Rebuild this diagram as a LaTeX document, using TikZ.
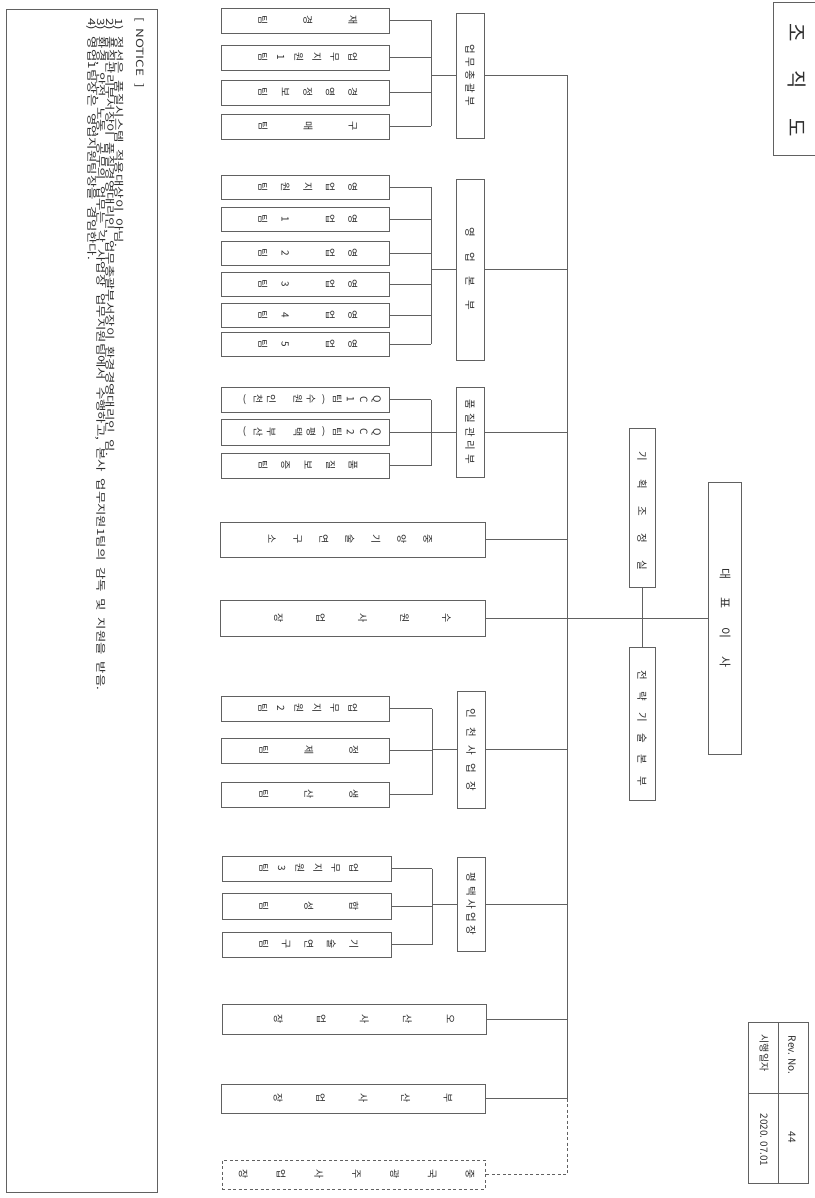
\documentclass[tikz,border=0pt]{standalone}
\usepackage{fontspec}
\setmainfont{Noto Sans CJK KR}
\newfontfamily\nfont[WordSpace=2.2,FakeStretch=1.35]{Noto Sans CJK KR}
\definecolor{ln}{gray}{0.38}
\definecolor{tx}{gray}{0.18}
\makeatletter
\def\Spread#1#2{\def\Spread@k{\kern#1}\Spread@a#2\@nil}
\def\Spread@a#1#2\@nil{#1\ifx\relax#2\relax\else\Spread@k\Spread@a#2\@nil\fi}
\makeatother
\newcommand\mkbox[6][]{\node[box,#1,minimum width={(#5-#3)*1pt},minimum height={(#6-#4)*1pt}] (#2) at ({(#3+#5)/2},{(#4+#6)/2}) {};}
\newcommand\opn{\rotatebox[origin=c]{-90}{(}}
\newcommand\cls{\rotatebox[origin=c]{-90}{)}}
\tikzset{
  box/.style={draw=ln, line width=0.75pt, inner sep=0pt, outer sep=0pt},
  dbox/.style={dash pattern=on 3pt off 2.5pt},
  rot/.style={rotate=-90, text=tx, inner sep=0pt, align=center},
  stk/.style={rot, font=\fontsize{10}{#1}\selectfont},
  lvtwo/.style={rot, font=\fontsize{10.5}{12}\selectfont},
  ntxt/.style={rot, anchor=west, font=\nfont\fontsize{10}{10}\selectfont},
  conn/.style={draw=ln, line width=0.7pt},
}
\begin{document}
\begin{tikzpicture}[x=1pt,y=-1pt]
\path[use as bounding box] (0,0) rectangle (814,1198);
\fill[white] (0,0) rectangle (814,1198);

% title
\node[box, minimum width=50pt, minimum height=153pt] (ttl) at (798,78.5) {};
\node[rot, font=\fontsize{20}{24}\selectfont] (ttlt) at (797,80) {\Spread{29pt}{조직도}};

% revision table
\mkbox{rev}{748}{1022}{808}{1183}
\draw[conn] (rev.north) -- (rev.south);
\draw[conn] (rev.west |- 0,1093) -- (rev.east |- 0,1093);
\node[rot, font=\fontsize{10}{12}\selectfont] (rv1) at (792,1055) {Rev. No.};
\node[rot, font=\fontsize{10}{12}\selectfont] (rv2) at (792,1137) {44};
\node[rot, font=\fontsize{10}{12}\selectfont] (rv3) at (764,1053) {시행일자};
\node[rot, font=\fontsize{10}{12}\selectfont] (rv4) at (764,1140) {2020. 07.01};

% notice
\mkbox{ntc}{6}{9}{157}{1192}
\node[ntxt] (nh) at (140,17) {[ NOTICE ]};
\node[ntxt] (n1) at (119,18) {1) 정선은 품질시스템 적용대상이 아님.};
\node[ntxt] (n2) at (110,18) {2) 품질관리부서장이 품질경영대리인, 업무총괄부서장이 환경경영대리인 임.};
\node[ntxt] (n3) at (101,18) {3) 환경, 안전, 노동, 공무의 업무는 각 사업장 업무지원팀에서 수행하고, 본사 업무지원1팀의 감독 및 지원을 받음.};
\node[ntxt] (n4) at (92,18) {4) 영업1팀장은 영업지원팀장을 겸임한다.};

% top level
\mkbox{ceo}{708}{482}{741}{754}
\node[rot, font=\fontsize{12}{14}\selectfont] (ceot) at (725,618) {\Spread{18pt}{대표이사}};
\mkbox{plan}{629}{428}{655}{587}
\node[lvtwo] (plant) at (642,511) {\Spread{17.5pt}{기획조정실}};
\mkbox{strat}{629}{647}{655}{800}
\node[lvtwo] (stratt) at (642,728) {\Spread{11.5pt}{전략기술본부}};

% level two
\mkbox{gA}{456}{13}{484}{138}
\node[lvtwo] (gAt) at (470,75.5) {\Spread{3.5pt}{업무총괄부}};
\mkbox{gB}{456}{179}{484}{360}
\node[lvtwo] (gBt) at (470,269) {\Spread{14.5pt}{영업본부}};
\mkbox{gC}{456}{387}{484}{477}
\node[lvtwo] (gCt) at (470,432) {\Spread{4pt}{품질관리부}};
\mkbox{rnd}{220}{522}{485}{557}
\node[stk=26] (rndt) at (350,539.5) {중\\앙\\기\\술\\연\\구\\소};
\mkbox{suw}{220}{600}{485}{636}
\node[stk=42] (suwt) at (362.5,618) {수\\원\\사\\업\\장};
\mkbox{gD}{457}{691}{485}{808}
\node[lvtwo] (gDt) at (471,750) {\Spread{8.5pt}{인천사업장}};
\mkbox{gE}{457}{857}{485}{951}
\node[lvtwo] (gEt) at (471,904) {\Spread{3.5pt}{평택사업장}};
\mkbox{osn}{222}{1004}{486}{1034}
\node[stk=43] (osnt) at (364,1019) {오\\산\\사\\업\\장};
\mkbox{bsn}{221}{1084}{485}{1113}
\node[stk=42.5] (bsnt) at (363,1098.5) {부\\산\\사\\업\\장};
\mkbox[dbox]{chn}{222}{1160}{485}{1189}
\node[stk=37.8] (chnt) at (356.5,1174.5) {중\\국\\광\\주\\사\\업\\장};

% level three: 업무총괄부
\mkbox{a1}{221}{8}{389}{33}
\node[stk=45] (a1t) at (308,20.5) {재\\경\\팀};
\mkbox{a2}{221}{45}{389}{70}
\node[stk=18] (a2t) at (308,57.5) {업\\무\\지\\원\\1\\팀};
\mkbox{a3}{221}{80}{389}{105}
\node[stk=22.5] (a3t) at (308,92.5) {경\\영\\정\\보\\팀};
\mkbox{a4}{221}{114}{389}{139}
\node[stk=45] (a4t) at (308,126.5) {구\\매\\팀};

% 영업본부
\mkbox{b1}{221}{175}{389}{199}
\node[stk=22.5] (b1t) at (308,187) {영\\업\\지\\원\\팀};
\mkbox{b2}{221}{207}{389}{231}
\node[stk=22.5] (b2t) at (308,219) {영\\업\\\mbox{}\\1\\팀};
\mkbox{b3}{221}{241}{389}{265}
\node[stk=22.5] (b3t) at (308,253) {영\\업\\\mbox{}\\2\\팀};
\mkbox{b4}{221}{272}{389}{296}
\node[stk=22.5] (b4t) at (308,284) {영\\업\\\mbox{}\\3\\팀};
\mkbox{b5}{221}{303}{389}{327}
\node[stk=22.5] (b5t) at (308,315) {영\\업\\\mbox{}\\4\\팀};
\mkbox{b6}{221}{332}{389}{356}
\node[stk=22.5] (b6t) at (308,344) {영\\업\\\mbox{}\\5\\팀};

% 품질관리부
\mkbox{c1}{221}{387}{389}{412}
\node[stk=13.2] (c1t) at (311,399.5) {Q\\C\\1\\팀\\\opn\\수\\원\\\mbox{}\\인\\천\\\cls};
\mkbox{c2}{221}{419}{389}{445}
\node[stk=13.2] (c2t) at (311,432) {Q\\C\\2\\팀\\\opn\\평\\택\\\mbox{}\\부\\산\\\cls};
\mkbox{c3}{221}{453}{389}{478}
\node[stk=22.5] (c3t) at (308,465.5) {품\\질\\보\\증\\팀};

% 인천사업장
\mkbox{d1}{221}{696}{389}{721}
\node[stk=18] (d1t) at (308,708.5) {업\\무\\지\\원\\2\\팀};
\mkbox{d2}{221}{738}{389}{763}
\node[stk=45] (d2t) at (309,750.5) {정\\제\\팀};
\mkbox{d3}{221}{782}{389}{807}
\node[stk=45] (d3t) at (309,794.5) {생\\산\\팀};

% 평택사업장
\mkbox{e1}{222}{856}{391}{881}
\node[stk=18] (e1t) at (309,868.5) {업\\무\\지\\원\\3\\팀};
\mkbox{e2}{222}{893}{391}{919}
\node[stk=45] (e2t) at (309,906) {합\\성\\팀};
\mkbox{e3}{222}{932}{391}{957}
\node[stk=22.5] (e3t) at (309,944.5) {기\\술\\연\\구\\팀};

% connectors
\coordinate (bus) at (567,0);
\coordinate (sbA) at (431,0);
\coordinate (sbD) at (432,0);
\draw[conn] (bus |- gA.east) -- (bus |- bsn.east);
\foreach \n in {gA,gB,gC,rnd,suw,gD,gE,osn,bsn}
  \draw[conn] (\n.east) -- (\n.east -| bus);
\draw[conn, dbox] (bus |- bsn.east) -- (bus |- chn.east) -- (chn.east);
\draw[conn] (ceo.west) -- (ceo.west -| bus);
\draw[conn] (plan.south) -- (strat.north);

\foreach \n in {a1,a2,a3,a4,b1,b2,b3,b4,b5,b6,c1,c2,c3}
  \draw[conn] (\n.east) -- (\n.east -| sbA);
\foreach \n in {d1,d2,d3,e1,e2,e3}
  \draw[conn] (\n.east) -- (\n.east -| sbD);
\draw[conn] (sbA |- a1.east) -- (sbA |- a4.east);
\draw[conn] (sbA |- gA.west) -- (gA.west);
\draw[conn] (sbA |- b1.east) -- (sbA |- b6.east);
\draw[conn] (sbA |- gB.west) -- (gB.west);
\draw[conn] (sbA |- c1.east) -- (sbA |- c3.east);
\draw[conn] (sbA |- gC.west) -- (gC.west);
\draw[conn] (sbD |- d1.east) -- (sbD |- d3.east);
\draw[conn] (sbD |- gD.west) -- (gD.west);
\draw[conn] (sbD |- e1.east) -- (sbD |- e3.east);
\draw[conn] (sbD |- gE.west) -- (gE.west);
\end{tikzpicture}
\end{document}
